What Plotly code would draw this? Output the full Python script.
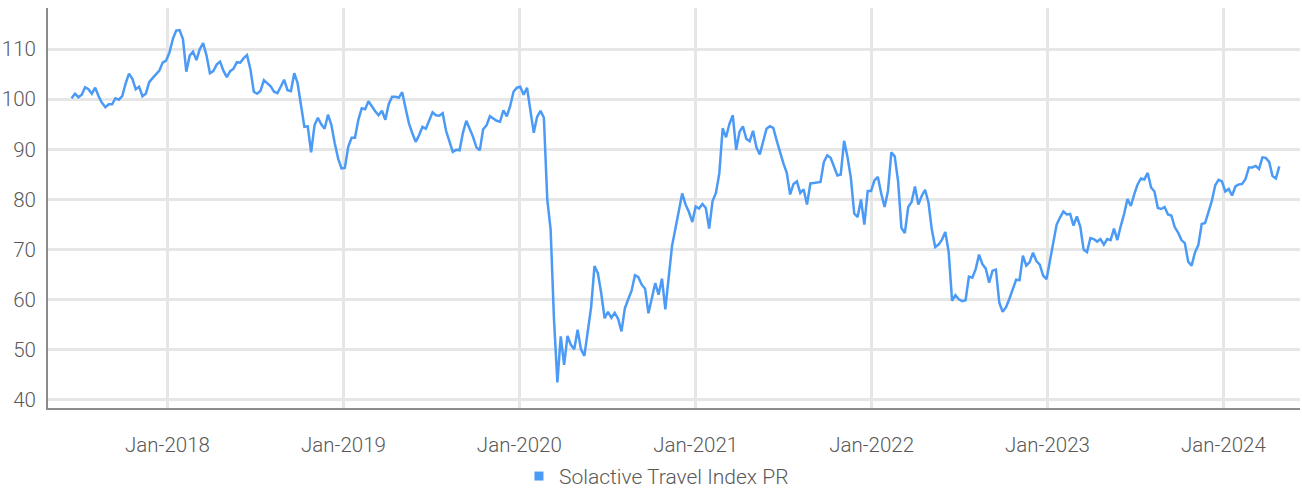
import pandas as pd
import plotly.graph_objects as go

# Weekly closing levels of the index (Fridays), starting mid-June 2017
start_date = "2017-06-16"
index_levels = [
    100.2, 101.1, 100.4, 100.9, 102.4, 102.0, 101.1, 102.3, 100.6, 99.3,
    98.4, 99.0, 99.0, 100.2, 99.9, 100.6, 103.1, 105.1, 104.1, 102.0,
    102.5, 100.6, 101.1, 103.4, 104.2, 105.0, 105.7, 107.3, 107.7, 109.3,
    112.0, 113.7, 113.8, 112.0, 105.5, 108.7, 109.5, 107.8, 110.0, 111.2,
    108.7, 105.2, 105.6, 106.9, 107.5, 105.7, 104.4, 105.6, 106.1, 107.4,
    107.3, 108.2, 108.8, 106.0, 101.5, 101.1, 101.7, 103.8, 103.1, 102.6,
    101.5, 101.2, 102.5, 103.9, 101.8, 101.6, 105.2, 103.2, 98.8, 94.5,
    94.6, 89.4, 94.8, 96.3, 95.0, 94.1, 96.9, 94.9, 91.2, 88.2,
    86.2, 86.3, 90.5, 92.3, 92.3, 95.9, 98.2, 98.0, 99.6, 98.5,
    97.6, 96.8, 97.7, 95.9, 99.0, 100.5, 100.5, 100.3, 101.4, 98.2,
    95.2, 93.2, 91.5, 92.8, 94.5, 94.1, 95.9, 97.4, 96.8, 96.7,
    97.2, 93.7, 91.6, 89.5, 89.9, 89.8, 93.3, 95.7, 94.1, 92.5,
    90.4, 89.8, 94.0, 94.8, 96.6, 96.1, 95.7, 95.5, 97.8, 96.6,
    98.6, 101.5, 102.3, 102.5, 100.9, 102.3, 98.0, 93.3, 96.5, 97.7,
    96.3, 80.0, 74.0, 56.0, 43.5, 52.7, 47.0, 52.8, 51.0, 50.1,
    54.0, 50.1, 48.8, 53.5, 58.5, 66.7, 65.3, 61.3, 56.3, 57.6,
    56.4, 57.4, 56.2, 53.7, 58.3, 60.1, 61.8, 64.9, 64.5, 63.0,
    62.2, 57.3, 60.0, 63.3, 61.0, 64.2, 58.1, 64.0, 70.8, 74.2,
    77.5, 81.2, 79.0, 77.5, 75.5, 78.6, 78.2, 79.1, 78.3, 74.2,
    79.7, 81.3, 85.2, 94.2, 92.4, 95.1, 96.8, 89.9, 93.5, 94.6,
    92.1, 91.6, 93.7, 90.4, 89.0, 91.7, 94.1, 94.6, 94.3, 91.8,
    89.4, 87.2, 85.3, 81.0, 83.1, 83.6, 81.3, 82.0, 79.0, 83.2,
    83.3, 83.4, 83.5, 87.5, 88.8, 88.3, 86.4, 84.8, 85.0, 91.7,
    88.5, 84.3, 77.2, 76.5, 80.0, 75.0, 81.7, 81.7, 83.8, 84.5,
    81.2, 78.5, 81.7, 89.4, 88.6, 83.6, 74.3, 73.3, 78.5, 79.5,
    82.6, 79.0, 80.7, 81.9, 79.4, 74.0, 70.5, 71.0, 72.0, 73.5,
    69.5, 59.8, 60.9, 60.1, 59.7, 59.9, 64.6, 64.4, 66.1, 69.0,
    67.1, 66.2, 63.4, 65.8, 66.0, 59.4, 57.6, 58.5, 60.2, 62.2,
    64.0, 63.9, 68.8, 66.8, 67.5, 69.4, 67.7, 67.0, 64.8, 64.1,
    67.9, 72.0, 75.0, 76.4, 77.6, 77.0, 77.1, 74.8, 76.6, 74.6,
    70.0, 69.5, 72.3, 72.1, 71.6, 72.1, 71.0, 72.1, 71.9, 74.2,
    71.9, 74.7, 77.1, 80.1, 78.7, 81.0, 83.0, 84.2, 84.0, 85.3,
    82.4, 81.6, 78.3, 78.1, 78.5, 77.0, 76.8, 74.5, 73.4, 71.9,
    71.3, 67.6, 66.8, 69.4, 70.9, 75.1, 75.3, 77.5, 79.7, 82.8,
    83.9, 83.6, 81.6, 82.1, 80.8, 82.6, 83.0, 83.1, 84.1, 86.4,
    86.4, 86.7, 86.1, 88.4, 88.3, 87.5, 84.7, 84.2, 86.6,
]
dates = pd.date_range(start=start_date, periods=len(index_levels), freq="7D")

series_name = "Solactive Travel Index PR"
y_ticks = [40, 50, 60, 70, 80, 90, 100, 110]

line_color = "#4b9bf6"
grid_color = "#e6e6e6"
axis_color = "#8c8c8c"
text_color = "#595959"
font_family = "Roboto, 'Liberation Sans', sans-serif"

fig = go.Figure()

fig.add_trace(go.Scatter(
    x=dates,
    y=index_levels,
    mode="lines",
    line=dict(color=line_color, width=2.5),
    name=series_name,
    showlegend=False,
    hoverinfo="x+y",
))

# legend entry shown as a square swatch
fig.add_trace(go.Scatter(
    x=[None],
    y=[None],
    mode="markers",
    marker=dict(symbol="square", size=9, color=line_color),
    name=series_name,
    showlegend=True,
))

fig.update_layout(
    width=1302,
    height=490,
    margin=dict(l=48, r=2, t=8, b=82, autoexpand=False),
    paper_bgcolor="white",
    plot_bgcolor="white",
    font=dict(family=font_family, size=20.5, color=text_color, weight=300),
    legend=dict(
        orientation="h",
        x=0.486,
        xanchor="center",
        y=-0.171,
        yanchor="middle",
        font=dict(size=21, color=text_color, weight=300),
        itemwidth=30,
        tracegroupgap=0,
    ),
    xaxis=dict(
        type="date",
        range=["2017-04-28", "2024-06-08"],
        tick0="2018-01-01",
        dtick="M12",
        tickformat="%b-%Y",
        showgrid=True,
        gridcolor=grid_color,
        gridwidth=3,
        showline=True,
        linecolor=axis_color,
        linewidth=2,
        ticks="",
        zeroline=False,
        ticklabelstandoff=17,
    ),
    yaxis=dict(
        range=[38.4, 118.2],
        tickvals=y_ticks,
        showgrid=True,
        gridcolor=grid_color,
        gridwidth=3,
        showline=True,
        linecolor=axis_color,
        linewidth=2,
        ticks="",
        zeroline=False,
        ticklabelstandoff=6,
    ),
)

fig.write_html("out.html")
